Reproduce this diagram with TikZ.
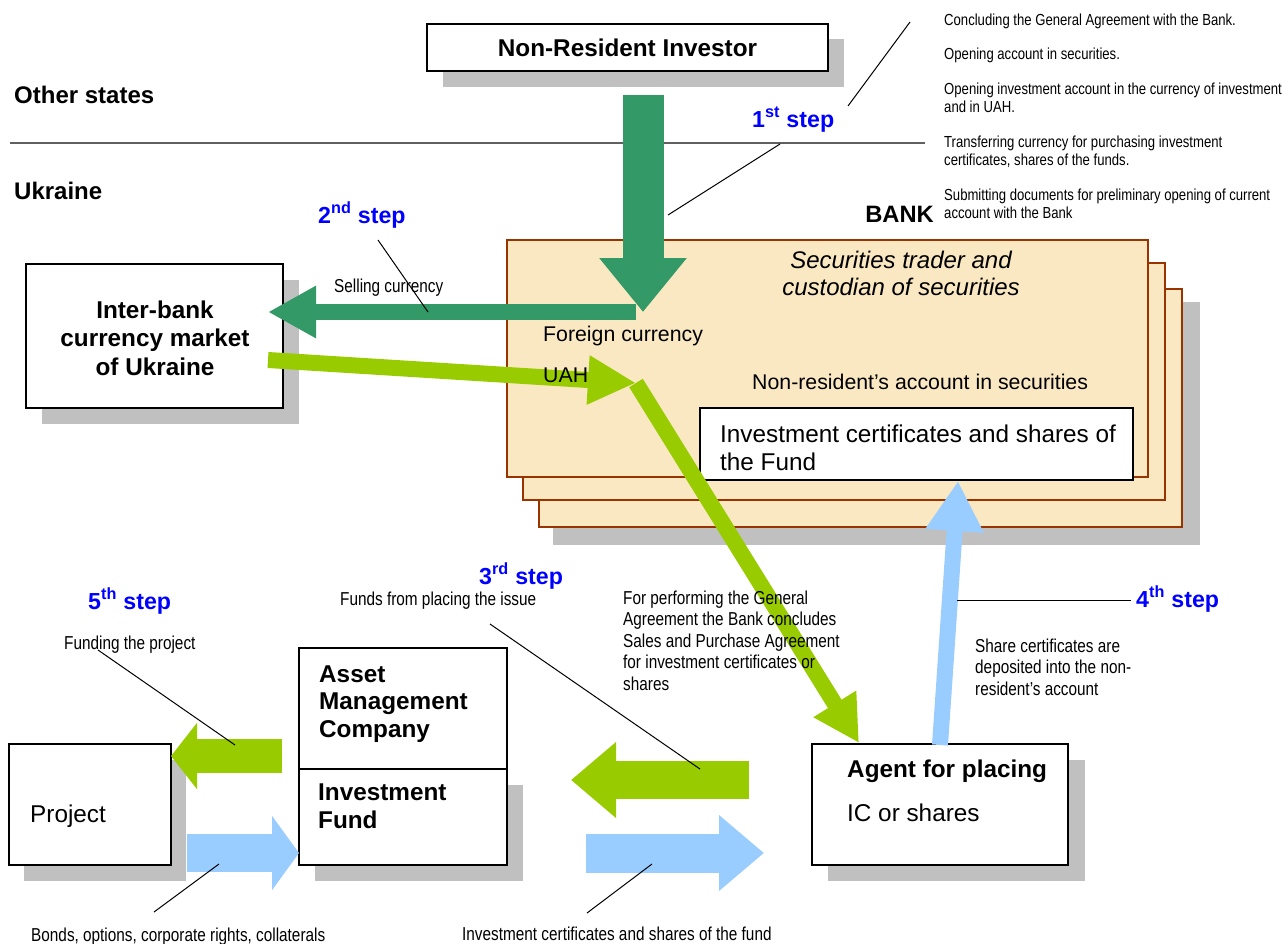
\documentclass[tikz,border=0pt]{standalone}
\usepackage{fontspec}
\setmainfont{Liberation Sans}
\newfontfamily\narrowfont[FakeStretch=0.82]{Liberation Sans}
\usetikzlibrary{arrows.meta}
\definecolor{dgreen}{HTML}{339966}
\definecolor{lgreen}{HTML}{99CC00}
\definecolor{lblue}{HTML}{99CCFF}
\definecolor{stepblue}{HTML}{0000FF}
\definecolor{bankfill}{HTML}{FAE8C2}
\definecolor{bankedge}{HTML}{993300}
\definecolor{shadowgray}{HTML}{C0C0C0}
\definecolor{sepgray}{HTML}{606060}
\begin{document}
\begin{tikzpicture}[x=1pt,y=-1pt,
  box/.style={draw=black, line width=1.6pt, fill=white, inner sep=0pt},
  shade/.style={fill=shadowgray},
  bankbox/.style={draw=bankedge, line width=2.8pt, fill=bankfill, inner sep=0pt},
  steplabel/.style={anchor=base west, inner sep=0pt, text=stepblue, font=\fontsize{23.2}{27}\selectfont\bfseries},
  region/.style={anchor=base west, inner sep=0pt, font=\fontsize{24}{28}\selectfont\bfseries},
  small/.style={anchor=base west, inner sep=0pt, align=left, font=\narrowfont\fontsize{18.7}{21.5}\selectfont},
  listtext/.style={anchor=base west, inner sep=0pt, align=left, font=\narrowfont\fontsize{16}{18}\selectfont},
  big/.style={anchor=base west, inner sep=0pt, align=left, font=\fontsize{24.3}{28}\selectfont},
  bigbold/.style={anchor=base west, inner sep=0pt, align=left, font=\fontsize{24.3}{27.5}\selectfont\bfseries},
  mid/.style={anchor=base west, inner sep=0pt, font=\fontsize{21.3}{24}\selectfont},
  leader/.style={draw=black, line width=1pt},
  blockarrow/.style={line cap=butt}
]
\useasboundingbox (0,0) rectangle (1285,943);

% ---------- separator and regions ----------
\draw[sepgray, line width=1.6pt] (10,143) -- (925,143);
\node[region] (other) at (14,103) {Other states};
\node[region] (ukr) at (14,199) {Ukraine};

% ---------- Non-resident investor ----------
\fill[shade] (443,39) rectangle (844,87);
\node[box, minimum width=401pt, minimum height=47pt, font=\fontsize{24.3}{28}\selectfont\bfseries] (nri) at (627.5,47.5) {Non-Resident Investor};

% ---------- Inter-bank ----------
\fill[shade] (42,280) rectangle (299,424);
\node[box, minimum width=257pt, minimum height=144pt] (ib) at (154.5,336) {};
\node[anchor=base, inner sep=0pt, align=center, font=\fontsize{24.3}{28.5}\selectfont\bfseries] (ibtext) at (155,375) {Inter-bank\\currency market\\of Ukraine};

% ---------- Bank stack ----------
\fill[shade] (553,302) rectangle (1200,545);
\node[bankbox, minimum width=643pt, minimum height=238pt] (bank3) at (860.5,408) {};
\node[bankbox, minimum width=642pt, minimum height=237pt] (bank2) at (844,381.5) {};
\node[bankbox, minimum width=641pt, minimum height=237pt] (bank1) at (827.5,358.5) {};
\node[anchor=base, inner sep=0pt, align=center, font=\fontsize{24}{27}\selectfont\itshape] (sectr) at (901,295) {Securities trader and\\custodian of securities};
\node[anchor=base east, inner sep=0pt, font=\fontsize{23.7}{27}\selectfont\bfseries] (bankl) at (934,222) {BANK};
\node[mid] (nracc) at (752,389) {Non-resident’s account in securities};
\node[box, minimum width=433pt, minimum height=72pt] (icbox) at (916.5,444) {};
\node[big] (ictext) at (720,470) {Investment certificates and shares of\\the Fund};

% ---------- Project ----------
\fill[shade] (24,760) rectangle (186,881);
\node[box, minimum width=162pt, minimum height=121pt] (proj) at (90,804.5) {};
\node[big] (projtext) at (30,822) {Project};

% ---------- AMC / Fund ----------
\fill[shade] (315,785) rectangle (523,881);
\node[box, minimum width=208pt, minimum height=121pt] (amc) at (403,708.5) {};
\node[box, minimum width=208pt, minimum height=96pt] (fund) at (403,817) {};
\node[bigbold] (amctext) at (319,737) {Asset\\Management\\Company};
\node[bigbold] (fundtext) at (318,828) {Investment\\Fund};

% ---------- Agent ----------
\fill[shade] (828,760) rectangle (1085,881);
\node[box, minimum width=256pt, minimum height=121pt] (agent) at (940,804.5) {};
\node[bigbold] (agtext) at (847,777) {Agent for placing};
\node[big] (ictext2) at (847,821) {IC or shares};

% ---------- arrow end points ----------
\coordinate (dgtop) at (643,95);
\coordinate (dgtip) at (643,312);
\coordinate (sellstart) at (636,312);
\coordinate (selltip) at (268,312);
\coordinate (uahstart) at (268,360);
\coordinate (uahtip) at (636,383);
\coordinate (agtop) at (859,743);
\coordinate (agbot) at (940,745);
\coordinate (icbot) at (958,481);
\coordinate (fundtail) at (749,780);
\coordinate (fundtip) at (571,780);
\coordinate (ictail) at (586,853);
\coordinate (ictip) at (764,853);
\coordinate (projtail) at (282,756);
\coordinate (projtip) at (171,756);
\coordinate (bondtail) at (187,853);
\coordinate (bondtip) at (299,853);

% ---------- block arrows ----------
\draw[blockarrow, dgreen, line width=16pt, -{Triangle[length=48pt,width=49pt]}] (sellstart) -- (selltip);
\draw[blockarrow, dgreen, line width=41pt, -{Triangle[length=54pt,width=84pt]}] (dgtop) -- (dgtip);
\draw[blockarrow, lgreen, line width=16pt, -{Triangle[length=48pt,width=46pt]}] (uahstart) -- (uahtip);
\draw[blockarrow, lgreen, line width=16pt, -{Triangle[length=46pt,width=47pt]}] (uahtip) -- (agtop);
\draw[blockarrow, lblue, line width=16pt, -{Triangle[length=50pt,width=55pt]}] (agbot) -- (icbot);
\draw[blockarrow, lgreen, line width=38pt, -{Triangle[length=45pt,width=73pt]}] (fundtail) -- (fundtip);
\draw[blockarrow, lblue, line width=39pt, -{Triangle[length=45pt,width=73pt]}] (ictail) -- (ictip);
\draw[blockarrow, lgreen, line width=34pt, -{Triangle[length=26pt,width=65pt]}] (projtail) -- (projtip);
\draw[blockarrow, lblue, line width=38pt, -{Triangle[length=27pt,width=73pt]}] (bondtail) -- (bondtip);

% ---------- texts over arrows in the bank ----------
\node[mid] (fc) at (543,341) {Foreign currency};
\node[mid] (uah) at (543,382) {UAH};

% ---------- step labels ----------
\node[steplabel] (s1) at (752,127) {1\textsuperscript{st} step};
\node[steplabel] (s2) at (318,223) {2\textsuperscript{nd} step};
\node[steplabel] (s3) at (479,584) {3\textsuperscript{rd} step};
\node[steplabel] (s4) at (1136,607) {4\textsuperscript{th} step};
\node[steplabel] (s5) at (88,609) {5\textsuperscript{th} step};

% ---------- small texts ----------
\node[listtext] (l1) at (944,25) {Concluding the General Agreement with the Bank.};
\node[listtext] (l2) at (944,59) {Opening account in securities.};
\node[listtext] (l3) at (944,112) {Opening investment account in the currency of investment\\and in UAH.};
\node[listtext] (l4) at (944,165) {Transferring currency for purchasing investment\\certificates, shares of the funds.};
\node[listtext] (l5) at (944,218) {Submitting documents for preliminary opening of current\\account with the Bank};
\node[small] (sell) at (334,292) {Selling currency};
\node[small] (fund1) at (64,649) {Funding the project};
\node[small] (fpi) at (340,605) {Funds from placing the issue};
\node[small] (perf) at (623,690) {For performing the General\\Agreement the Bank concludes\\Sales and Purchase Agreement\\for investment certificates or\\shares};
\node[small] (share) at (975,695) {Share certificates are\\deposited into the non-\\resident’s account};
\node[small] (bonds) at (31,941) {Bonds, options, corporate rights, collaterals};
\node[small] (icfund) at (462,940) {Investment certificates and shares of the fund};

% ---------- leader lines ----------
\coordinate (ld1a) at (848,106); \coordinate (ld1b) at (910,22);
\coordinate (ld2a) at (780,144); \coordinate (ld2b) at (668,215);
\coordinate (ld3a) at (378,240); \coordinate (ld3b) at (428,312);
\coordinate (ld4a) at (98,650);  \coordinate (ld4b) at (235,745);
\coordinate (ld5a) at (490,624); \coordinate (ld5b) at (700,769);
\coordinate (ld6a) at (154,912); \coordinate (ld6b) at (219,864);
\coordinate (ld7a) at (587,913); \coordinate (ld7b) at (652,864);
\coordinate (ld8a) at (957,600); \coordinate (ld8b) at (1131,600);
\draw[leader] (ld1a) -- (ld1b);
\draw[leader] (ld2a) -- (ld2b);
\draw[leader] (ld3a) -- (ld3b);
\draw[leader] (ld4a) -- (ld4b);
\draw[leader] (ld5a) -- (ld5b);
\draw[leader] (ld6a) -- (ld6b);
\draw[leader] (ld7a) -- (ld7b);
\draw[leader] (ld8a) -- (ld8b);
\end{tikzpicture}
\end{document}
